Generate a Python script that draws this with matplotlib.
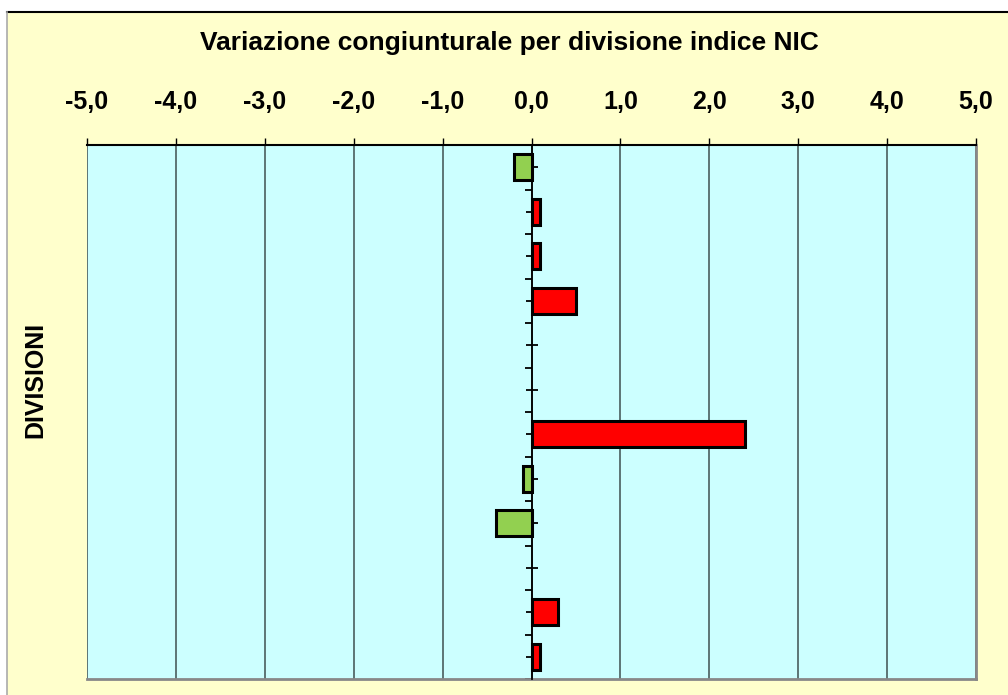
import matplotlib
matplotlib.use("Agg")
import matplotlib.pyplot as plt
import numpy as np
from matplotlib.patches import Rectangle
from matplotlib.ticker import FixedLocator, FuncFormatter

plt.rcParams['font.family'] = ['Liberation Sans', 'DejaVu Sans']

# variazione congiunturale per le 12 divisioni (dall'alto in basso)
divisioni = [f"Div {i:02d}" for i in range(1, 13)]
variazioni = [-0.2, 0.1, 0.1, 0.5, 0.0, 0.0, 2.4, -0.1, -0.4, 0.0, 0.3, 0.1]
x_ticks = [-5, -4, -3, -2, -1, 0, 1, 2, 3, 4, 5]

sfondo = '#FFFFCC'
area = '#CCFFFF'
rosso = '#FF0000'
verde = '#92D050'

fig = plt.figure(figsize=(10.08, 6.95), dpi=100, facecolor='white')

# riquadro giallo del grafico
fig.patches.append(Rectangle((7 / 1008, 0), 1, 1 - 12 / 695, transform=fig.transFigure,
                             facecolor=sfondo, edgecolor='none', zorder=-5))
fig.lines.append(plt.Line2D([7 / 1008, 1], [1 - 12 / 695] * 2, transform=fig.transFigure,
                            color='black', lw=1.5, zorder=-4))
fig.lines.append(plt.Line2D([7 / 1008] * 2, [0, 1 - 12 / 695], transform=fig.transFigure,
                            color='#AAAAAA', lw=1.2, zorder=-4))

ax = fig.add_axes([87 / 1008, 1 - 679 / 695, (976 - 87) / 1008, (679 - 145) / 695])
ax.set_facecolor(area)

y = np.arange(len(variazioni))
colori = [rosso if v > 0 else verde for v in variazioni]
bordi = ['black' if v != 0 else 'none' for v in variazioni]
ax.barh(y, variazioni, height=0.58, color=colori, edgecolor=bordi, linewidth=2.2, zorder=3)

ax.set_xlim(-5, 5)
ax.set_ylim(len(variazioni) - 0.5, -0.5)

# asse x in alto
ax.xaxis.tick_top()
ax.set_xticks(x_ticks)
ax.xaxis.set_major_formatter(FuncFormatter(lambda v, p: f"{v:.1f}".replace('.', ',')))
ax.tick_params(axis='x', direction='out', length=5, width=1, color='black',
               labelsize=18, pad=17)
for lab in ax.get_xticklabels():
    lab.set_fontweight('bold')
ax.grid(axis='x', color='#3F4F4F', linewidth=1.1, zorder=1)

# asse y sullo zero
ax.spines['left'].set_position(('data', 0))
ax.spines['left'].set_color('black')
ax.spines['left'].set_linewidth(1.3)
ax.spines['left'].set_zorder(4)
ax.spines['top'].set_color('black')
ax.spines['top'].set_linewidth(1.5)
for s in ['right', 'bottom']:
    ax.spines[s].set_color('#888888')
    ax.spines[s].set_linewidth(2)

ax.set_yticks(y)
ax.set_yticklabels([])
ax.yaxis.set_minor_locator(FixedLocator(np.arange(len(variazioni) + 1) - 0.5))
ax.tick_params(axis='y', which='major', direction='inout', length=8, width=1.3)
ax.tick_params(axis='y', which='minor', direction='out', length=5, width=1.3)

fig.text(509 / 1008, 1 - 43 / 695, 'Variazione congiunturale per divisione indice NIC',
         ha='center', va='center', fontsize=19, fontweight='bold')
fig.text(35 / 1008, 1 - 380 / 695, 'DIVISIONI', rotation=90,
         ha='center', va='center', fontsize=18, fontweight='bold')

fig.savefig('out.png', dpi=100, facecolor=fig.get_facecolor())
